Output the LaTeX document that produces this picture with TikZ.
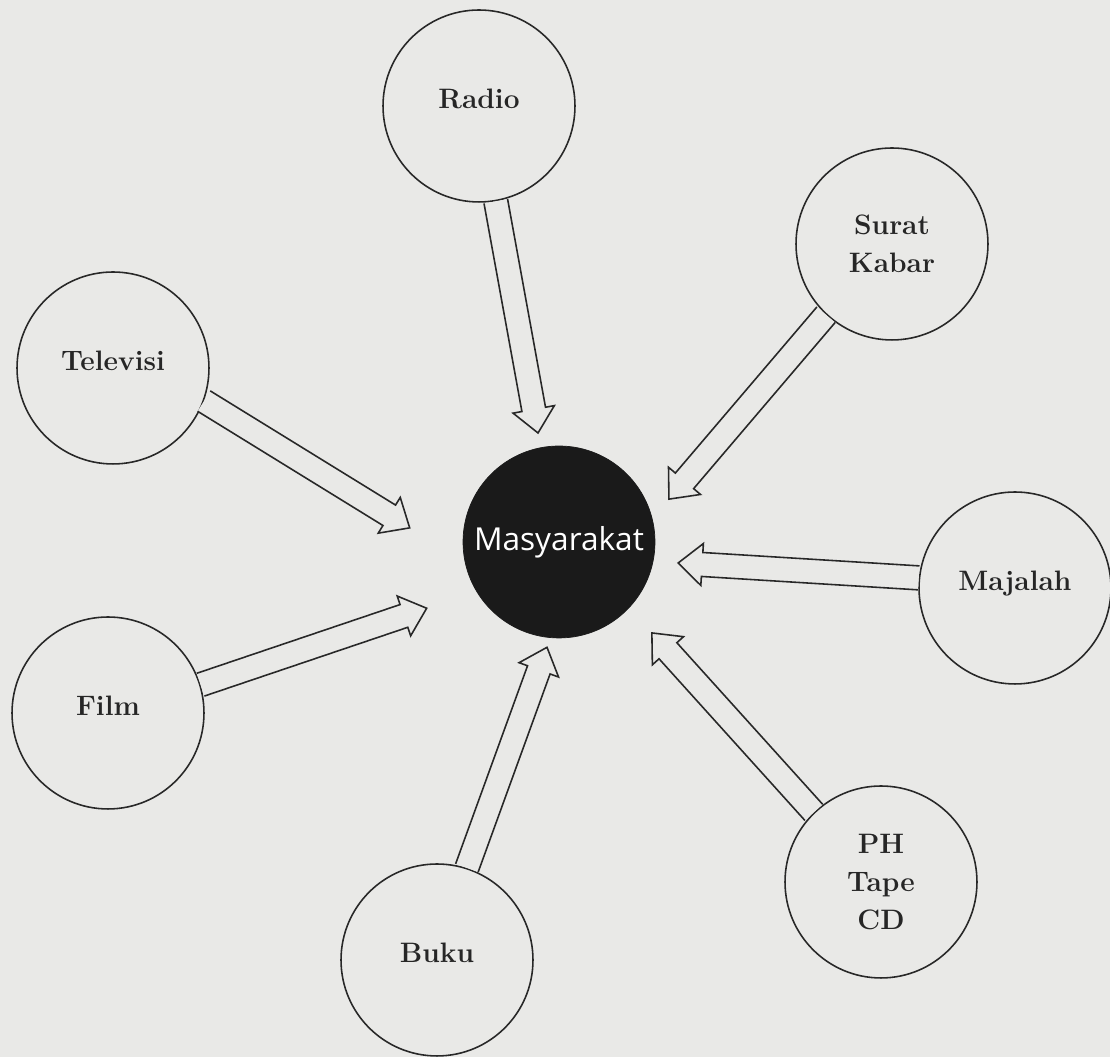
\documentclass[tikz,border=0pt]{standalone}
\usepackage{fontspec}
\usetikzlibrary{calc}
\newfontfamily\masfont{Open Sans}
\definecolor{paper}{RGB}{233,233,231}
\definecolor{ink}{RGB}{40,40,40}
\definecolor{core}{RGB}{26,26,26}
% hollow block arrow from tail #1 to tip #2
\newcommand{\mediaarrow}[2]{%
	\coordinate (neck) at ($(#2)!0.48cm!(#1)$);
	\draw[hollow] ($(#1)!0.24cm!90:(#2)$) -- ($(neck)!0.24cm!90:(#2)$) -- ($(neck)!0.42cm!90:(#2)$) -- (#2) -- ($(neck)!0.42cm!-90:(#2)$) -- ($(neck)!0.24cm!-90:(#2)$) -- ($(#1)!0.24cm!-90:(#2)$);
}

\begin{document}
\begin{tikzpicture}[x=0.02cm, y=0.02cm,
	media/.style={shape=circle, draw=ink, fill=paper, line width=0.9pt, minimum size=3.84cm, inner sep=0pt, align=center, font=\fontsize{16}{21.5}\selectfont\bfseries, text=black!85},
	single/.style={media, text depth=0.3cm},
	hollow/.style={draw=ink, fill=paper, line width=0.9pt, line join=miter}]
	\fill[paper] (0, 0) rectangle (1110, 1057);
	\useasboundingbox (0, 0) rectangle (1110, 1057);
	% centre and its media:
	\node[shape=circle, draw=core, fill=core, minimum size=3.84cm, text=white, font=\masfont\fontsize{18}{20}\selectfont] (mas) at (559, 515){Masyarakat};
	\coordinate (radiotip) at ($(mas)+(100.9:111)$);
	\coordinate (surattip) at ($(mas)+(21.3:118)$);
	\coordinate (tvtip) at ($(mas)+(174.6:150)$);
	\coordinate (majalahtip) at ($(mas)+(-10:121)$);
	\coordinate (filmtip) at ($(mas)+(206.6:148)$);
	\coordinate (bukutip) at ($(mas)+(263.5:106)$);
	\coordinate (phtip) at ($(mas)+(-44.4:130)$);
	\node[single] (radio) at (479, 951){Radio};
	\node[media] (surat) at (892, 813){Surat\\Kabar};
	\node[single] (tv) at (113, 689){Televisi};
	\node[single] (majalah) at (1015, 469){Majalah};
	\node[single] (film) at (108, 344){Film};
	\node[single] (buku) at (437, 97){Buku};
	\node[media] (ph) at (881, 175){PH\\Tape\\CD};
	% arrows into the centre:
	\mediaarrow{radio.-80}{radiotip}
	\mediaarrow{surat.227.5}{surattip}
	\mediaarrow{tv.-20.3}{tvtip}
	\mediaarrow{majalah.174}{majalahtip}
	\mediaarrow{film.17.5}{filmtip}
	\mediaarrow{buku.72.3}{bukutip}
	\mediaarrow{ph.134}{phtip}
\end{tikzpicture}
\end{document}
